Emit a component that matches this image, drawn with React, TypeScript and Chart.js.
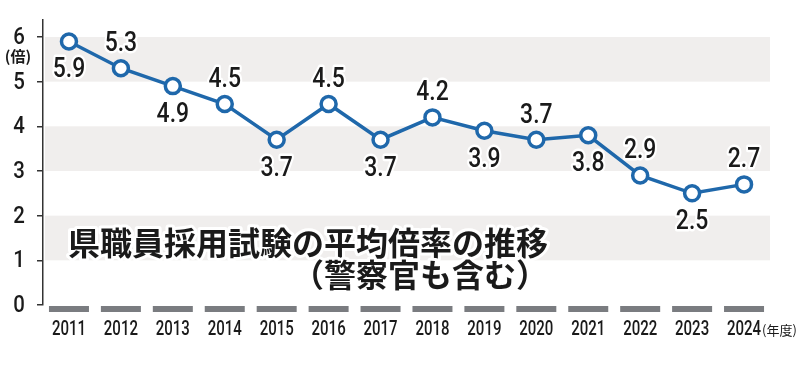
import React, { useEffect, useRef } from "react";
import { Chart, registerables } from "chart.js";

Chart.register(...registerables);

const years = ["2011","2012","2013","2014","2015","2016","2017","2018","2019","2020","2021","2022","2023","2024"];
const ratios = [5.9, 5.3, 4.9, 4.5, 3.7, 4.5, 3.7, 4.2, 3.9, 3.7, 3.8, 2.9, 2.5, 2.7];
const labelSide = ["below","above","below","above","below","above","below","above","below","above","below","above","below","above"];
const yTicks = [0, 1, 2, 3, 4, 5, 6];
const bandRanges = [[1, 2], [3, 4], [5, 6]];
const titleLines = ["県職員採用試験の平均倍率の推移", "（警察官も含む）"];
const yUnit = "(倍)";
const xUnit = "(年度)";

const NUM_FONT = "Roboto, 'Noto Sans', sans-serif";
const JP_FONT = "'Noto Sans CJK JP', 'Noto Sans', sans-serif";

function condensed(ctx: any, text: string, x: number, y: number, sx: number, align: string, stroke?: number) {
  ctx.save();
  ctx.translate(x, y);
  ctx.scale(sx, 1);
  ctx.textAlign = align;
  ctx.textBaseline = "middle";
  if (stroke) {
    ctx.lineJoin = "round";
    ctx.lineWidth = stroke;
    ctx.strokeStyle = "#ffffff";
    ctx.strokeText(text, 0, 0);
  }
  ctx.fillStyle = "#1a1a1a";
  ctx.fillText(text, 0, 0);
  ctx.restore();
}

const decorPlugin = {
  id: "decor",
  beforeDatasetsDraw(chart: any) {
    const { ctx, chartArea, scales } = chart;
    const y = scales.y;
    const x = scales.x;
    ctx.save();
    ctx.fillStyle = "#f0eeed";
    for (const [a, b] of bandRanges) {
      const top = y.getPixelForValue(b);
      const bot = y.getPixelForValue(a);
      ctx.fillRect(chartArea.left + 2, top, chartArea.right - chartArea.left - 2, bot - top);
    }
    // bottom category bars
    ctx.fillStyle = "#7a7c80";
    years.forEach((_, i) => {
      const cx = x.getPixelForValue(i);
      ctx.fillRect(cx - 20, chartArea.bottom + 1, 40, 6);
    });
    // y tick labels
    ctx.font = `500 24px ${NUM_FONT}`;
    yTicks.forEach((v) => {
      condensed(ctx, String(v), 19, y.getPixelForValue(v) + 1, 0.85, "center");
    });
    // x tick labels
    ctx.font = `500 20px ${NUM_FONT}`;
    years.forEach((yr, i) => {
      condensed(ctx, yr, x.getPixelForValue(i), 330, 0.75, "center");
    });
    // title text
    ctx.font = `bold 32px ${JP_FONT}`;
    ctx.textAlign = "right";
    ctx.textBaseline = "middle";
    ctx.lineJoin = "round";
    const rightX = 548;
    const ys = [243, 275];
    titleLines.forEach((t, i) => {
      ctx.lineWidth = 6;
      ctx.strokeStyle = "#ffffff";
      ctx.strokeText(t, rightX, ys[i]);
      ctx.fillStyle = "#1a1a1a";
      ctx.fillText(t, rightX, ys[i]);
    });
    ctx.restore();
  },
  afterDatasetsDraw(chart: any) {
    const { ctx, scales } = chart;
    const meta = chart.getDatasetMeta(0);
    ctx.save();
    ctx.font = `500 28px ${NUM_FONT}`;
    meta.data.forEach((pt: any, i: number) => {
      const off = labelSide[i] === "above" ? -24 : 29;
      condensed(ctx, ratios[i].toFixed(1), pt.x, pt.y + off, 0.82, "center", 5);
    });
    // unit labels
    ctx.font = `bold 15px ${JP_FONT}`;
    ctx.fillStyle = "#1a1a1a";
    ctx.textAlign = "center";
    ctx.textBaseline = "middle";
    ctx.fillText(yUnit, 18, 56);
    ctx.font = `13px ${JP_FONT}`;
    ctx.textAlign = "left";
    const lastX = scales.x.getPixelForValue(years.length - 1);
    ctx.fillText(xUnit, lastX + 18, 330);
    ctx.restore();
  },
};

export default function App() {
  const ref = useRef<HTMLCanvasElement | null>(null);
  useEffect(() => {
    document.body.style.margin = "0";
    const canvas = ref.current;
    if (!canvas) return;
    const chart = new Chart(canvas, {
      type: "line",
      data: {
        labels: years,
        datasets: [
          {
            data: ratios,
            borderColor: "#1f68ab",
            borderWidth: 3.5,
            pointRadius: 7.5,
            pointBorderWidth: 3.5,
            pointBackgroundColor: "#ffffff",
            pointBorderColor: "#1f68ab",
            tension: 0,
          },
        ],
      },
      options: {
        animation: false,
        responsive: false,
        maintainAspectRatio: false,
        layout: { padding: { top: 20, right: 30, left: 0, bottom: 0 } },
        plugins: { legend: { display: false }, tooltip: { enabled: false } },
        scales: {
          x: {
            type: "category",
            offset: true,
            grid: { display: false, drawTicks: false },
            border: { display: false },
            afterFit: (s: any) => { s.height = 60; },
            ticks: { display: false, autoSkip: false },
          },
          y: {
            min: 0,
            max: 6.38,
            afterBuildTicks: (s: any) => {
              s.ticks = yTicks.map((v) => ({ value: v }));
            },
            afterFit: (s: any) => { s.width = 43; },
            grid: { drawOnChartArea: false, tickLength: 6, color: "#333333", lineWidth: 1.5 },
            border: { color: "#333333", width: 1.5 },
            ticks: { display: false },
          },
        },
      },
      plugins: [decorPlugin],
    });
    return () => chart.destroy();
  }, []);
  return <canvas ref={ref} width={800} height={365} style={{ display: "block", width: 800, height: 365 }} />;
}
